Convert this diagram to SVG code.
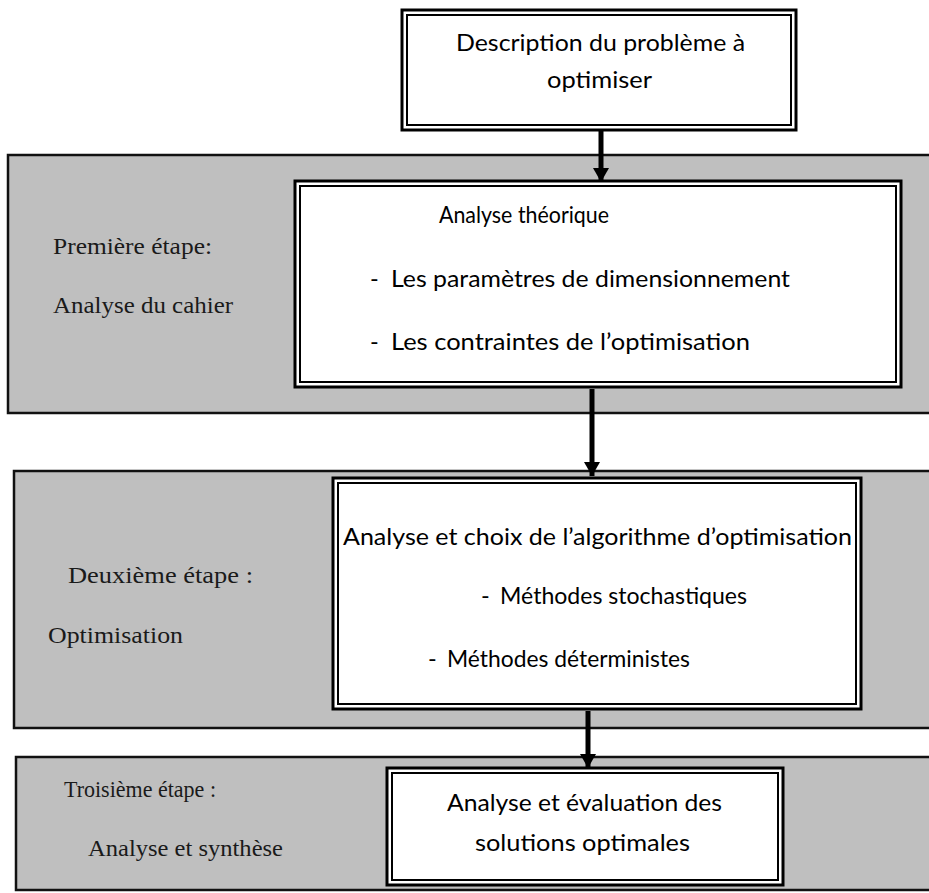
<svg xmlns="http://www.w3.org/2000/svg" width="929" height="893" viewBox="0 0 929 893">
<style>
.band{fill:#bfbfbf;stroke:#111;stroke-width:2.5}
.bo{fill:#fff;stroke:#000;stroke-width:3}
.bi{fill:none;stroke:#000;stroke-width:2}
.t{font-family:Lato,"Open Sans","Liberation Sans",sans-serif;font-size:23.5px;fill:#000}
.s{font-family:"Liberation Serif","DejaVu Serif",serif;font-size:23px;fill:#1a1a1a}
.a{stroke:#000;stroke-width:5;fill:none}
</style>
<defs>
<marker id="ah" viewBox="0 0 14 16" refX="14" refY="8" markerWidth="14" markerHeight="16" markerUnits="userSpaceOnUse" orient="auto">
<path d="M0,0 L14,8 L0,16 Z" fill="#000"/>
</marker>
</defs>
<rect width="929" height="893" fill="#fff"/>
<g id="band1"><rect class="band" x="8" y="155" width="930" height="258"/>
<text class="s" x="53" y="254" textLength="159" lengthAdjust="spacingAndGlyphs">Première étape:</text>
<text class="s" x="53" y="313" textLength="180" lengthAdjust="spacingAndGlyphs">Analyse du cahier</text></g>
<g id="band2"><rect class="band" x="14" y="471" width="930" height="257"/>
<text class="s" x="68" y="583" textLength="185" lengthAdjust="spacingAndGlyphs">Deuxième étape :</text>
<text class="s" x="48" y="643" textLength="135" lengthAdjust="spacingAndGlyphs">Optimisation</text></g>
<g id="band3"><rect class="band" x="16" y="757" width="930" height="133"/>
<text class="s" x="64" y="797" textLength="152" lengthAdjust="spacingAndGlyphs">Troisième étape :</text>
<text class="s" x="88" y="856" textLength="195" lengthAdjust="spacingAndGlyphs">Analyse et synthèse</text></g>
<g id="connectors">
<line class="a" x1="601" y1="131" x2="601" y2="182" marker-end="url(#ah)"/>
<line class="a" x1="592" y1="389" x2="592" y2="476" marker-end="url(#ah)"/>
<line class="a" x1="588" y1="711" x2="588" y2="768" marker-end="url(#ah)"/>
</g>
<g id="box0"><rect class="bo" x="402" y="10" width="394" height="120"/><rect class="bi" x="407" y="15" width="384" height="110"/>
<text class="t" x="456" y="51" textLength="289" lengthAdjust="spacingAndGlyphs">Description du problème à</text>
<text class="t" x="547" y="88" textLength="105" lengthAdjust="spacingAndGlyphs">optimiser</text></g>
<g id="box1"><rect class="bo" x="295" y="181" width="606" height="206"/><rect class="bi" x="300" y="186" width="596" height="196"/>
<text class="t" x="439" y="223" textLength="170" lengthAdjust="spacingAndGlyphs">Analyse théorique</text>
<text class="t" y="287"><tspan x="370">-</tspan><tspan x="391" textLength="399" lengthAdjust="spacingAndGlyphs">Les paramètres de dimensionnement</tspan></text>
<text class="t" y="350"><tspan x="370">-</tspan><tspan x="391" textLength="359" lengthAdjust="spacingAndGlyphs">Les contraintes de l’optimisation</tspan></text></g>
<g id="box2"><rect class="bo" x="333" y="478" width="528" height="231"/><rect class="bi" x="338" y="483" width="518" height="221"/>
<text class="t" x="343" y="545" textLength="509" lengthAdjust="spacingAndGlyphs">Analyse et choix de l’algorithme d’optimisation</text>
<text class="t" y="604"><tspan x="481">-</tspan><tspan x="500" textLength="247" lengthAdjust="spacingAndGlyphs">Méthodes stochastiques</tspan></text>
<text class="t" y="667"><tspan x="428">-</tspan><tspan x="447" textLength="243" lengthAdjust="spacingAndGlyphs">Méthodes déterministes</tspan></text></g>
<g id="box3"><rect class="bo" x="387" y="768" width="396" height="117"/><rect class="bi" x="392" y="773" width="386" height="107"/>
<text class="t" x="447" y="811" textLength="275" lengthAdjust="spacingAndGlyphs">Analyse et évaluation des</text>
<text class="t" x="475" y="851" textLength="215" lengthAdjust="spacingAndGlyphs">solutions optimales</text></g>
</svg>
